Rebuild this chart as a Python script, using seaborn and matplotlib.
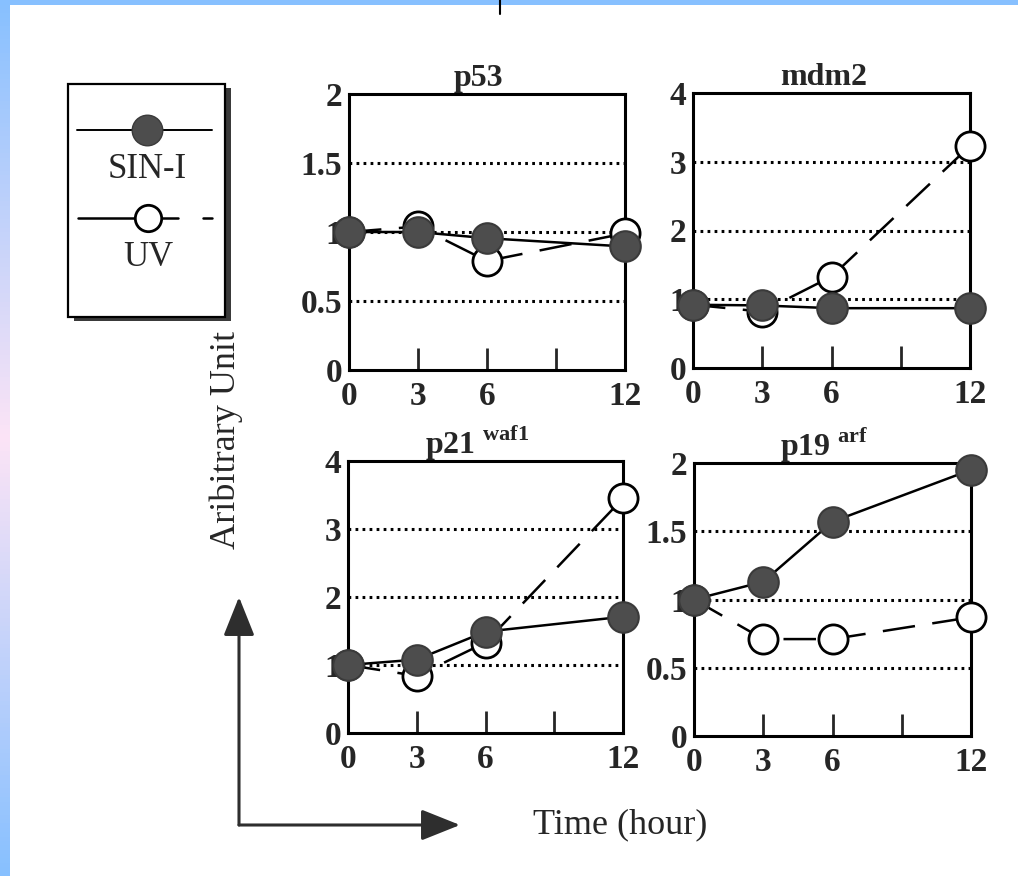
import numpy as np
import seaborn as sns
import matplotlib.pyplot as plt
from matplotlib.lines import Line2D
from matplotlib.patches import Rectangle, FancyArrowPatch

# values (arbitrary units)
times = [0, 3, 6, 12]
p53_sin = [1.0, 1.0, 0.955, 0.895]
p53_uv = [1.0, 1.04, 0.79, 0.99]
mdm2_sin = [0.92, 0.91, 0.87, 0.87]
mdm2_uv = [0.92, 0.82, 1.33, 3.23]
p21_sin = [1.0, 1.08, 1.49, 1.71]
p21_uv = [1.0, 0.84, 1.33, 3.45]
p19_sin = [1.0, 1.13, 1.57, 1.95]
p19_uv = [1.0, 0.71, 0.71, 0.87]

x_ticks = [0, 3, 6, 9, 12]
x_labels = ["0", "3", "6", "", "12"]
ticks_2 = [0, 0.5, 1, 1.5, 2]
labels_2 = ["0", "0.5", "1", "1.5", "2"]
ticks_4 = [0, 1, 2, 3, 4]
labels_4 = ["0", "1", "2", "3", "4"]

sns.set_style("white")
plt.rcParams["font.family"] = ["Liberation Serif", "DejaVu Serif"]
plt.rcParams["mathtext.fontset"] = "custom"
plt.rcParams["mathtext.rm"] = "Liberation Serif"
plt.rcParams["mathtext.bf"] = "Liberation Serif:bold"

W, H = 1018, 876
fig = plt.figure(figsize=(W / 100, H / 100), dpi=100)
fig.patch.set_facecolor("white")


def px(x, y):
    return x / W, 1 - y / H


def add_panel(box, title, sin, uv, yticks, ylabels):
    l, t, r, b = box
    ax = fig.add_axes([l / W, 1 - b / H, (r - l) / W, (b - t) / H])
    ax.set_facecolor("white")
    ymax = yticks[-1]
    for yv in yticks[1:-1]:
        ax.axhline(yv, color="black", lw=2.2, ls=(0, (0.9, 1.4)), zorder=1)
    sns.lineplot(x=times, y=uv, ax=ax, color="black", lw=1.8,
                 linestyle=(0, (13, 7)), marker="o", markersize=21,
                 markerfacecolor="white", markeredgecolor="black",
                 markeredgewidth=2, errorbar=None, clip_on=False, zorder=3)
    sns.lineplot(x=times, y=sin, ax=ax, color="black", lw=1.8,
                 marker="o", markersize=22, markerfacecolor="#4d4d4d",
                 markeredgecolor="#3a3a3a", markeredgewidth=1.5,
                 errorbar=None, clip_on=False, zorder=4)
    ax.set_xlim(0, 12)
    ax.set_ylim(0, ymax)
    ax.set_xticks(x_ticks)
    ax.set_xticklabels(x_labels, fontsize=24, fontweight="bold")
    ax.set_yticks(yticks)
    ax.set_yticklabels(ylabels, fontsize=24, fontweight="bold")
    ax.tick_params(axis="x", direction="in", length=16, width=2, pad=8,
                   bottom=True)
    ax.tick_params(axis="y", length=0, pad=5)
    for s in ax.spines.values():
        s.set_linewidth(2.2)
        s.set_color("black")
    ax.set_xlabel("")
    ax.set_ylabel("")
    ax.set_title(title, fontsize=23, fontweight="bold", pad=6, x=0.47)
    return ax


add_panel((349, 94, 625, 370), "p53", p53_sin, p53_uv, ticks_2, labels_2)
add_panel((693, 93, 970, 368), "mdm2", mdm2_sin, mdm2_uv, ticks_4, labels_4)
add_panel((348, 461, 623, 733), r"$\mathbf{p21}^{\ \mathbf{waf1}}$",
          p21_sin, p21_uv, ticks_4, labels_4)
add_panel((694, 463, 971, 736), r"$\mathbf{p19}^{\ \mathbf{arf}}$",
          p19_sin, p19_uv, ticks_2, labels_2)

# legend box with shadow
x0, y0 = px(68, 317)
bw, bh = 157 / W, 233 / H
fig.add_artist(Rectangle((x0 + 6 / W, y0 - 4 / H), bw, bh, transform=fig.transFigure,
                         facecolor="#3a3a3a", edgecolor="none", zorder=1))
fig.add_artist(Rectangle((x0, y0), bw, bh, transform=fig.transFigure,
                         facecolor="white", edgecolor="black", lw=1.6, zorder=2))
ya = px(0, 130)[1]
fig.add_artist(Line2D([77 / W, 212 / W], [ya, ya], transform=fig.transFigure,
                      color="black", lw=1.4, zorder=3))
fig.add_artist(Line2D([147 / W], [ya], transform=fig.transFigure, marker="o",
                      markersize=22, markerfacecolor="#4d4d4d",
                      markeredgecolor="#3a3a3a", zorder=4))
fig.text(*px(147, 170), "SIN-I", fontsize=25, ha="center", va="center", zorder=5)
yb = px(0, 218)[1]
fig.add_artist(Line2D([78 / W, 178 / W], [yb, yb], transform=fig.transFigure,
                      color="black", lw=1.8, zorder=3))
fig.add_artist(Line2D([203 / W, 212 / W], [yb, yb], transform=fig.transFigure,
                      color="black", lw=1.8, zorder=3))
fig.add_artist(Line2D([148 / W], [yb], transform=fig.transFigure, marker="o",
                      markersize=19, markerfacecolor="white",
                      markeredgecolor="black", markeredgewidth=2, zorder=4))
fig.text(*px(148, 257), "UV", fontsize=25, ha="center", va="center", zorder=5)

# axis titles and arrows
fig.text(*px(226, 440), "Aribitrary Unit", fontsize=26, rotation=90,
         ha="center", va="center")
fig.text(*px(620, 825), "Time (hour)", fontsize=26, ha="center", va="center")
for end in [(239, 597), (460, 825)]:
    fig.add_artist(FancyArrowPatch(px(239, 825), px(*end), transform=fig.transFigure,
                                   arrowstyle="-|>,head_length=1.0,head_width=0.4",
                                   mutation_scale=24, lw=2.2, color="#2e2e2e",
                                   shrinkA=0, shrinkB=0))

# slide frame: blue top band, blue-pink-blue left band
band = fig.add_axes([0, 0, 10 / W, 1])
top_c = np.array([135, 192, 255]) / 255
mid_c = np.array([252, 228, 246]) / 255
t = np.abs(np.linspace(-1, 1, 200))[:, None]
grad = (t * top_c + (1 - t) * mid_c)[:, None, :]
band.imshow(grad, aspect="auto", extent=[0, 1, 0, 1])
band.set_axis_off()
top = fig.add_axes([0, 1 - 5 / H, 1, 5 / H])
top.set_facecolor(top_c)
top.set_xticks([])
top.set_yticks([])
for s in top.spines.values():
    s.set_visible(False)
fig.add_artist(Line2D([500 / W, 500 / W], [1, 1 - 14 / H], transform=fig.transFigure,
                      color="black", lw=1.5, zorder=10))

fig.savefig("out.png", dpi=100)
